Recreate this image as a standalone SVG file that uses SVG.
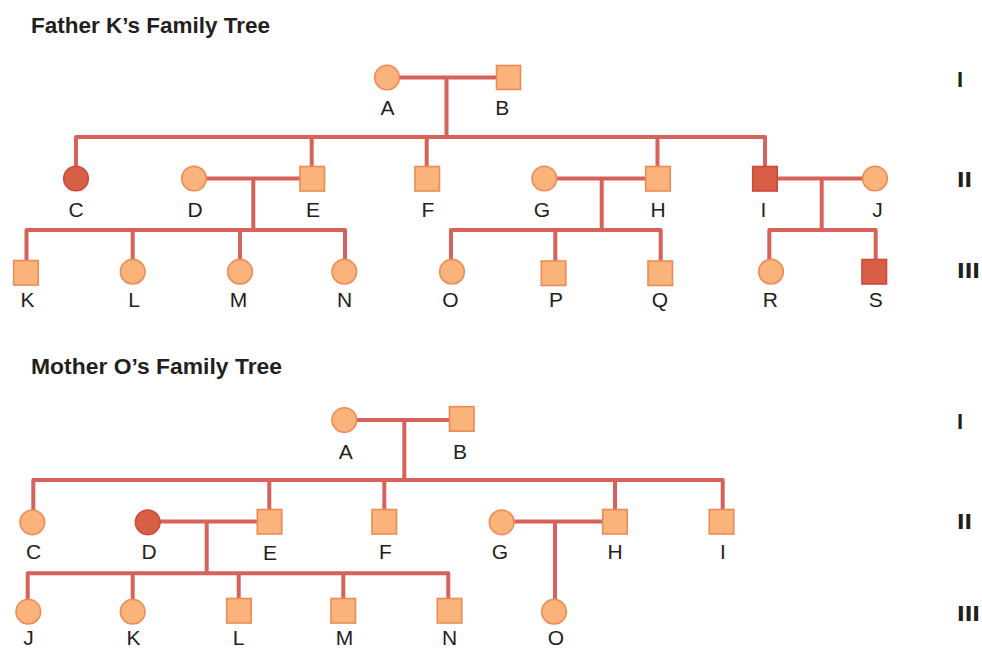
<svg xmlns="http://www.w3.org/2000/svg" width="982" height="651" viewBox="0 0 982 651">
<style>
.ln{fill:none;stroke:#d6625a;stroke-width:4;stroke-linejoin:round;stroke-linecap:butt}
.f{fill:#f9b37b;stroke:#ec8b55;stroke-width:1.6}
.a{fill:#d95e46;stroke:#cc4a3b;stroke-width:1.6}
.lb{font-family:"Liberation Sans",Arial,sans-serif;font-size:21px;fill:#231f20;text-anchor:middle}
.t{font-family:"Liberation Sans",Arial,sans-serif;font-size:22px;font-weight:bold;fill:#231f20}
.g{font-family:"Liberation Sans",Arial,sans-serif;font-size:22px;font-weight:bold;fill:#231f20}
</style>
<rect width="982" height="651" fill="#ffffff"/>

<text class="t" x="31" y="33" textLength="239" lengthAdjust="spacingAndGlyphs">Father K’s Family Tree</text>
<text class="t" x="31" y="374" textLength="251" lengthAdjust="spacingAndGlyphs">Mother O’s Family Tree</text>

<g id="gen-labels">
<text class="g" x="957" y="87">I</text>
<text class="g" x="957" y="187" textLength="15" lengthAdjust="spacingAndGlyphs">II</text>
<text class="g" x="957" y="278" textLength="23" lengthAdjust="spacingAndGlyphs">III</text>
<text class="g" x="957" y="429">I</text>
<text class="g" x="957" y="529" textLength="15" lengthAdjust="spacingAndGlyphs">II</text>
<text class="g" x="957" y="621" textLength="23" lengthAdjust="spacingAndGlyphs">III</text>
</g>

<g id="connectors">
<!-- Father tree -->
<path class="ln" d="M387 77.5H508"/>
<path class="ln" d="M446.5 77.5V137"/>
<path class="ln" d="M76 170V137H765V170"/>
<path class="ln" d="M311.7 137V170"/>
<path class="ln" d="M426.7 137V170"/>
<path class="ln" d="M657.5 137V170"/>
<path class="ln" d="M194 178.5H312"/>
<path class="ln" d="M253.3 178.5V230"/>
<path class="ln" d="M26.5 262V230H345V262"/>
<path class="ln" d="M132.7 230V262"/>
<path class="ln" d="M240 230V262"/>
<path class="ln" d="M544 178.5H658"/>
<path class="ln" d="M601.7 178.5V230"/>
<path class="ln" d="M451 262V230H660.7V262"/>
<path class="ln" d="M555.3 230V262"/>
<path class="ln" d="M765 178.5H875"/>
<path class="ln" d="M821.7 178.5V230"/>
<path class="ln" d="M769.3 262V230H875.7V262"/>
<!-- Mother tree -->
<path class="ln" d="M344 420H462"/>
<path class="ln" d="M404.3 420V480"/>
<path class="ln" d="M33.3 512V480H722.7V512"/>
<path class="ln" d="M269.3 480V512"/>
<path class="ln" d="M384.3 480V512"/>
<path class="ln" d="M615 480V512"/>
<path class="ln" d="M148 521.5H270"/>
<path class="ln" d="M206.7 521.5V573.3"/>
<path class="ln" d="M27.7 602V573.3H448.3V602"/>
<path class="ln" d="M132.7 573.3V602"/>
<path class="ln" d="M238.7 573.3V602"/>
<path class="ln" d="M343.3 573.3V602"/>
<path class="ln" d="M502 521.5H615"/>
<path class="ln" d="M555 521.5V602"/>
</g>

<!-- Father K's tree nodes -->
<g id="fA"><circle class="f" cx="387" cy="77.5" r="12.3"/><text class="lb" x="387.5" y="115">A</text></g>
<g id="fB"><rect class="f" x="496.5" y="65.5" width="24" height="24"/><text class="lb" x="502.3" y="115">B</text></g>
<g id="fC"><circle class="a" cx="76" cy="178.5" r="12.3"/><text class="lb" x="76" y="217">C</text></g>
<g id="fD"><circle class="f" cx="194" cy="178.5" r="12.3"/><text class="lb" x="195" y="217">D</text></g>
<g id="fE"><rect class="f" x="300" y="166.5" width="24.5" height="24.5"/><text class="lb" x="313" y="217">E</text></g>
<g id="fF"><rect class="f" x="415" y="166.5" width="24.5" height="24.5"/><text class="lb" x="428" y="217">F</text></g>
<g id="fG"><circle class="f" cx="544.3" cy="178.5" r="12.3"/><text class="lb" x="542" y="217">G</text></g>
<g id="fH"><rect class="f" x="645.7" y="166.5" width="24.5" height="24.5"/><text class="lb" x="658" y="217">H</text></g>
<g id="fI"><rect class="a" x="752.7" y="166.5" width="24.5" height="24.5"/><text class="lb" x="763.5" y="217">I</text></g>
<g id="fJ"><circle class="f" cx="875" cy="178.5" r="12.3"/><text class="lb" x="877.5" y="217">J</text></g>
<g id="fK"><rect class="f" x="13.7" y="260.5" width="24.5" height="24.5"/><text class="lb" x="27.5" y="307">K</text></g>
<g id="fL"><circle class="f" cx="132.7" cy="271.7" r="12.3"/><text class="lb" x="134" y="307">L</text></g>
<g id="fM"><circle class="f" cx="240" cy="271.7" r="12.3"/><text class="lb" x="238.5" y="307">M</text></g>
<g id="fN"><circle class="f" cx="344.3" cy="271.7" r="12.3"/><text class="lb" x="344.5" y="307">N</text></g>
<g id="fO"><circle class="f" cx="452" cy="271.7" r="12.3"/><text class="lb" x="450.5" y="307">O</text></g>
<g id="fP"><rect class="f" x="541.3" y="261" width="24.5" height="24.5"/><text class="lb" x="556" y="307">P</text></g>
<g id="fQ"><rect class="f" x="648" y="261" width="24.5" height="24.5"/><text class="lb" x="660" y="307">Q</text></g>
<g id="fR"><circle class="f" cx="771" cy="271.7" r="12.3"/><text class="lb" x="770.3" y="307">R</text></g>
<g id="fS"><rect class="a" x="862" y="259.5" width="24.5" height="24.5"/><text class="lb" x="875.7" y="307">S</text></g>

<!-- Mother O's tree nodes -->
<g id="mA"><circle class="f" cx="344.3" cy="420" r="12.3"/><text class="lb" x="345.7" y="458.5">A</text></g>
<g id="mB"><rect class="f" x="449.5" y="406.7" width="24.5" height="24.5"/><text class="lb" x="460" y="458.5">B</text></g>
<g id="mC"><circle class="f" cx="32.3" cy="522.3" r="12.3"/><text class="lb" x="33.5" y="558.5">C</text></g>
<g id="mD"><circle class="a" cx="147.7" cy="522.3" r="12.3"/><text class="lb" x="149" y="558.5">D</text></g>
<g id="mE"><rect class="f" x="257.3" y="509.5" width="24.5" height="24.5"/><text class="lb" x="270" y="559.5">E</text></g>
<g id="mF"><rect class="f" x="372" y="509.5" width="24.5" height="24.5"/><text class="lb" x="385.5" y="558.5">F</text></g>
<g id="mG"><circle class="f" cx="501.7" cy="522.3" r="12.3"/><text class="lb" x="500" y="558.5">G</text></g>
<g id="mH"><rect class="f" x="602.7" y="509.5" width="24.5" height="24.5"/><text class="lb" x="615" y="558.5">H</text></g>
<g id="mI"><rect class="f" x="709.3" y="509.5" width="24.5" height="24.5"/><text class="lb" x="723" y="558.5">I</text></g>
<g id="mJ"><circle class="f" cx="28.3" cy="611.7" r="12.3"/><text class="lb" x="28.5" y="645">J</text></g>
<g id="mK"><circle class="f" cx="132.7" cy="611.7" r="12.3"/><text class="lb" x="133.5" y="645">K</text></g>
<g id="mL"><rect class="f" x="226.7" y="598.5" width="24.5" height="24.5"/><text class="lb" x="238.5" y="645">L</text></g>
<g id="mM"><rect class="f" x="331" y="598.5" width="24.5" height="24.5"/><text class="lb" x="344.5" y="645">M</text></g>
<g id="mN"><rect class="f" x="437.3" y="598.5" width="24.5" height="24.5"/><text class="lb" x="449.5" y="645">N</text></g>
<g id="mO"><circle class="f" cx="554" cy="611.7" r="12.3"/><text class="lb" x="556" y="645">O</text></g>
</svg>
